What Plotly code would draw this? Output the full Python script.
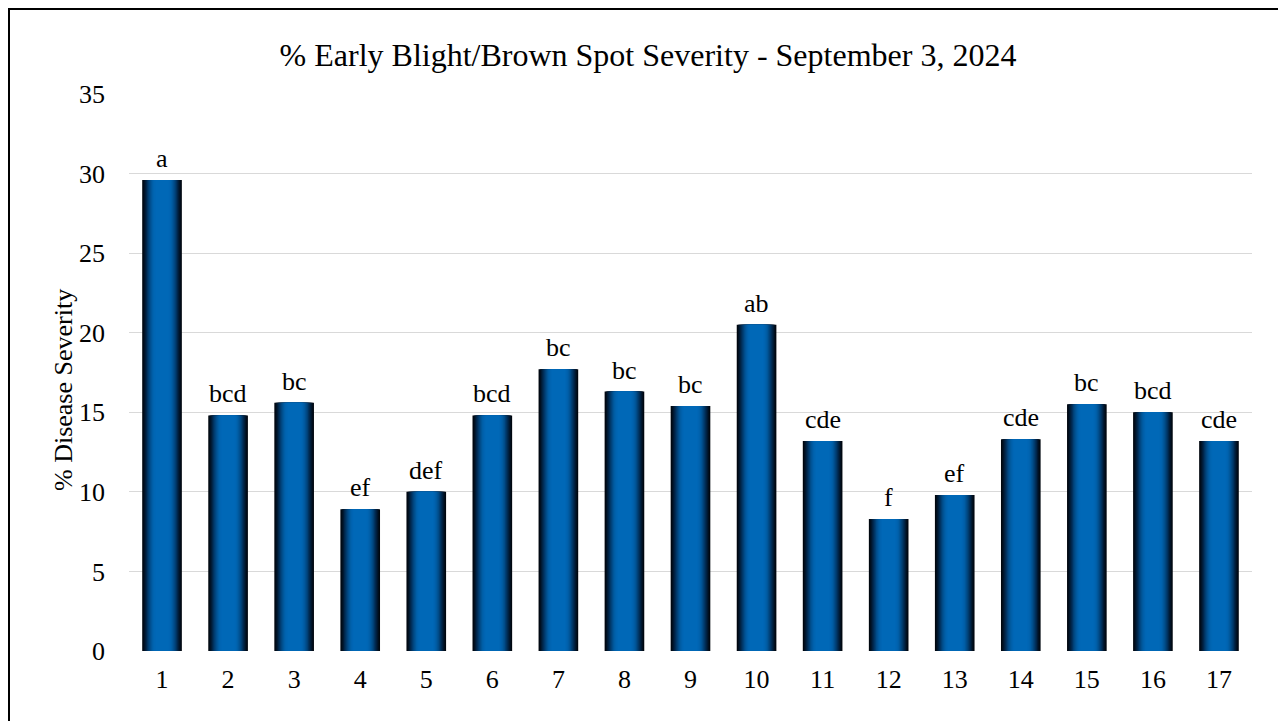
import plotly.graph_objects as go

# ---- data ----
treatments = [str(i) for i in range(1, 18)]
severity = [29.6, 14.8, 15.6, 8.9, 10.0, 14.8, 17.7, 16.3, 15.4, 20.5,
            13.2, 8.3, 9.8, 13.3, 15.5, 15.0, 13.2]
letters = ["a", "bcd", "bc", "ef", "def", "bcd", "bc", "bc", "bc", "ab",
           "cde", "f", "ef", "cde", "bc", "bcd", "cde"]

# ---- style ----
W, H = 1286, 721
OFF = 8  # page body margin
ML, MR, MT, MB = 129 - OFF, 34 + OFF, 94 - OFF, 70 + OFF
FONT = '"Liberation Serif", "Times New Roman", serif'
BAR_W = 0.6
grad_colors = ["#00070f", "#000f1f", "#001a33", "#00264a", "#003360",
               "#004076", "#004c89", "#005699", "#005ea6", "#0063af",
               "#0066b4", "#0068b7"]
step = 0.036

fig = go.Figure()
for k, col in enumerate(grad_colors):
    fig.add_trace(go.Bar(
        x=treatments, y=severity, width=BAR_W - k * step,
        marker=dict(color=col, line=dict(width=0)),
        hoverinfo="skip" if k else "x+y",
        showlegend=False,
    ))

# significance letters (category axes take the category's serial index)
for idx, (v, lab) in enumerate(zip(severity, letters)):
    fig.add_annotation(x=idx, y=v, xref="x", yref="y", text=lab, showarrow=False,
                       yanchor="bottom", xanchor="center", yshift=5,
                       font=dict(family=FONT, size=26, color="#000000"))

pw = W - ML - MR
ph = H - MT - MB
# y-axis title placed as in the reference
fig.add_annotation(xref="paper", yref="paper",
                   x=(63 - OFF - ML) / pw, y=(H - MB - (390 - OFF)) / ph,
                   text="% Disease Severity", textangle=-90, showarrow=False,
                   xanchor="center", yanchor="middle",
                   font=dict(family=FONT, size=26, color="#000000"))

fig.add_shape(type="rect", xref="paper", yref="paper",
              x0=(9 - OFF - ML) / pw, x1=(1283 - OFF - ML) / pw,
              y0=(H - MB - 740) / ph, y1=(H - MB - 1) / ph,
              line=dict(color="#000000", width=2), fillcolor="rgba(0,0,0,0)",
              layer="above")

fig.update_layout(
    width=W, height=H,
    margin=dict(l=ML, r=MR, t=MT, b=MB),
    barmode="overlay",
    plot_bgcolor="#ffffff", paper_bgcolor="#ffffff",
    font=dict(family=FONT, color="#000000"),
    title=dict(text="% Early Blight/Brown Spot Severity - September 3, 2024",
               x=(648 - OFF) / W, xanchor="center", y=1 - (55 - OFF) / H,
               yanchor="middle",
               font=dict(family=FONT, size=32, color="#000000")),
)
fig.update_yaxes(range=[0, 35], dtick=5, showgrid=True, gridcolor="#d9d9d9",
                 gridwidth=1, zeroline=False, showline=False, ticks="",
                 tickfont=dict(family=FONT, size=26, color="#000000"),
                 ticklabelstandoff=23)
fig.update_xaxes(type="category", showgrid=False, showline=False, ticks="",
                 zeroline=False,
                 tickfont=dict(family=FONT, size=26, color="#000000"),
                 ticklabelstandoff=10)

fig.write_html("out.html")
